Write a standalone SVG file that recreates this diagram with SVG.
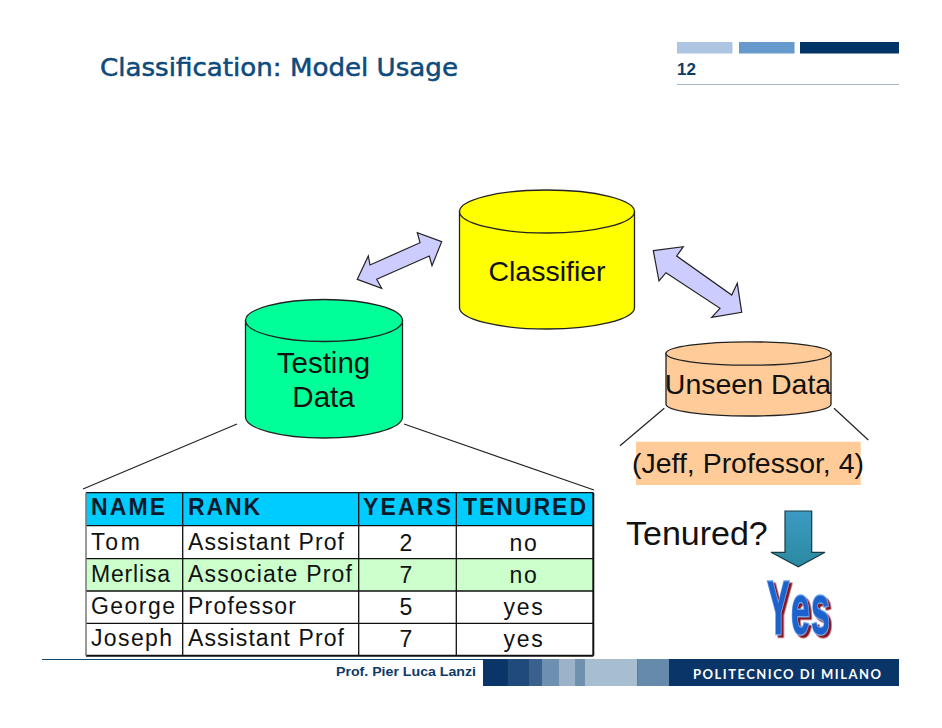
<svg xmlns="http://www.w3.org/2000/svg" width="942" height="728" viewBox="0 0 942 728">
<style>
text{font-family:"Liberation Sans",Arial,sans-serif;fill:#111}
.big{font-size:28.500px}
.c{text-anchor:middle}
.cell{font-size:23px}
.hd{font-size:23px;font-weight:bold;fill:#0b1a2b}
.cyl{stroke:#222;stroke-width:1.3}
.dbl{fill:#ccccff;stroke:#222;stroke-width:1.2;stroke-linejoin:miter}
.ln{stroke:#222;stroke-width:1.2;fill:none}
.grid{stroke:#111;stroke-width:1.3;fill:none}
.yes{font-size:72px;font-weight:bold;fill:#1f62cc;stroke:#6ea6ea;stroke-width:2.500;paint-order:stroke}
</style>
<defs>
<linearGradient id="dn" x1="0" y1="0" x2="0" y2="1"><stop offset="0" stop-color="#3d9ac4"/><stop offset="1" stop-color="#2a8aa0"/></linearGradient>
<filter id="sh" x="-10%" y="-10%" width="125%" height="125%"><feDropShadow dx="2.500" dy="2.500" stdDeviation="0" flood-color="#8a1420"/></filter>
</defs>
<rect width="942" height="728" fill="#fff"/>
<g id="header">
<text x="100" y="76" font-size="24" textLength="358" lengthAdjust="spacingAndGlyphs" style="font-family:'DejaVu Sans',Verdana,sans-serif;fill:#0e4a7c;stroke:#0e4a7c;stroke-width:0.500">Classification: Model Usage</text>
<rect x="677" y="42" width="55.500" height="11.500" fill="#adc5e1"/>
<rect x="739" y="42" width="55.500" height="11.500" fill="#6699cc"/>
<rect x="800" y="42" width="99" height="11.500" fill="#003366"/>
<text x="677" y="75" font-size="17" font-weight="bold" style="fill:#0e3a66">12</text>
<line x1="677" y1="84.500" x2="899" y2="84.500" stroke="#a9b7c4" stroke-width="1"/>
</g>
<g id="connectors">
<polygon class="dbl" points="357.300,279.300 368.300,256 370,265 420,242.700 417.300,232.700 441.700,241.700 432,265.700 429.300,256 376.700,279.300 381.700,288.300"/>
<polygon class="dbl" points="653.300,250.700 683.300,246.700 676.700,256 731.700,295 737.300,283.300 741.700,312.300 711.700,317.300 720,308.300 666,272.700 659,281"/>
<line class="ln" x1="237" y1="424" x2="83" y2="489"/>
<line class="ln" x1="404" y1="424" x2="594" y2="490"/>
<line class="ln" x1="664.300" y1="408.300" x2="620" y2="445.700"/>
<line class="ln" x1="834" y1="408.300" x2="868.300" y2="440"/>
</g>
<g id="classifier">
<path class="cyl" fill="#ffff00" d="M459.500 211.500V307.500A87.500 21.500 0 0 0 634.500 307.500V211.500Z"/>
<ellipse class="cyl" fill="#ffff00" cx="547" cy="211.500" rx="87.500" ry="21.500"/>
<text class="big c" x="547" y="280.500">Classifier</text>
</g>
<g id="testing-data">
<path class="cyl" fill="#00ff99" d="M245.500 320.500V417A78.500 21 0 0 0 402.500 417V320.500Z"/>
<ellipse class="cyl" fill="#00ff99" cx="324" cy="320.500" rx="78.500" ry="21"/>
<text class="c" font-size="29.500" x="323.500" y="373">Testing</text>
<text class="c" font-size="29.500" x="323.500" y="407">Data</text>
</g>
<g id="unseen-data">
<path class="cyl" fill="#ffcc99" d="M666 353.500V404.300A82.500 11.700 0 0 0 831 404.300V353.500Z"/>
<ellipse class="cyl" fill="#ffcc99" cx="748.500" cy="353.500" rx="82.500" ry="11.700"/>
<text class="big c" x="748" y="394">Unseen Data</text>
</g>
<g id="record">
<rect x="636" y="441.700" width="224.700" height="43.300" fill="#ffcc99"/>
<text class="big" x="632" y="473" textLength="232" lengthAdjust="spacingAndGlyphs">(Jeff, Professor, 4)</text>
</g>
<g id="table">
<rect x="86" y="492.700" width="507.300" height="33" fill="#00ccff"/>
<rect x="86" y="558.700" width="507.300" height="32.300" fill="#ccffcc"/>
<path class="grid" d="M86 492.700H593.300M86 525.700H593.300M86 558.700H593.300M86 591H593.300M86 623.300H593.300M182.700 492.700V655.700M358.700 492.700V655.700M456.300 492.700V655.700"/>
<path d="M593.300 492.700V655.700M86 655.700H593.300" stroke="#111" stroke-width="2" fill="none"/>
<line x1="86" y1="492.700" x2="86" y2="655.700" stroke="#777" stroke-width="1.500"/>
<text class="hd" x="91" y="515" textLength="74">NAME</text>
<text class="hd" x="188" y="515" textLength="72">RANK</text>
<text class="hd" x="363" y="515" textLength="88">YEARS</text>
<text class="hd" x="463" y="515" textLength="123">TENURED</text>
<text class="cell" x="91" y="550" textLength="49">Tom</text>
<text class="cell" x="188" y="550" textLength="156">Assistant Prof</text>
<text class="cell c" x="406" y="550.500">2</text>
<text class="cell c" x="524" y="550.500" letter-spacing="1.800">no</text>
<text class="cell" x="91" y="582" textLength="79">Merlisa</text>
<text class="cell" x="188" y="582" textLength="164">Associate Prof</text>
<text class="cell c" x="406" y="582.500">7</text>
<text class="cell c" x="524" y="582.500" letter-spacing="1.800">no</text>
<text class="cell" x="91" y="614" textLength="84">George</text>
<text class="cell" x="188" y="614" textLength="108">Professor</text>
<text class="cell c" x="406" y="614.500">5</text>
<text class="cell c" x="524" y="614.500" letter-spacing="1.800">yes</text>
<text class="cell" x="91" y="646" textLength="81">Joseph</text>
<text class="cell" x="188" y="646" textLength="156">Assistant Prof</text>
<text class="cell c" x="406" y="646.500">7</text>
<text class="cell c" x="524" y="646.500" letter-spacing="1.800">yes</text>
</g>
<g id="question">
<text x="626" y="545" font-size="34">Tenured?</text>
<polygon points="785,511 811.700,511 811.700,552.300 825,552.300 798.300,566.700 771,552.300 785,552.300" fill="url(#dn)" stroke="#1a3a44" stroke-width="1.200"/>
</g>
<g id="yes" filter="url(#sh)">
<text class="yes" transform="translate(767,634) scale(0.47,1.06)">Y</text>
<text class="yes" transform="translate(791,634) scale(0.47,1)">e</text>
<text class="yes" transform="translate(811,634) scale(0.47,1)">s</text>
</g>
<g id="footer">
<line x1="42" y1="659.500" x2="483" y2="659.500" stroke="#0e4a6a" stroke-width="1"/>
<text x="336" y="676" font-size="13" font-weight="bold" textLength="140" lengthAdjust="spacingAndGlyphs" style="fill:#0e3a66">Prof. Pier Luca Lanzi</text>
<rect x="483" y="659" width="416" height="27" fill="#0a3568"/>
<rect x="507.800" y="659" width="21.200" height="27" fill="#1f4a7a"/>
<rect x="529" y="659" width="13" height="27" fill="#3a618d"/>
<rect x="542" y="659" width="17" height="27" fill="#6d8fb0"/>
<rect x="559" y="659" width="16" height="27" fill="#9cb2c8"/>
<rect x="575" y="659" width="10" height="27" fill="#6f91ae"/>
<rect x="585" y="659" width="52.400" height="27" fill="#a7bdd0"/>
<rect x="637.400" y="659" width="31.600" height="27" fill="#668aa9"/>
<text x="693" y="679" font-size="13" textLength="188" style="fill:#fff;font-family:'Lato','Liberation Sans',sans-serif;font-weight:bold">POLITECNICO DI MILANO</text>
</g>
</svg>
